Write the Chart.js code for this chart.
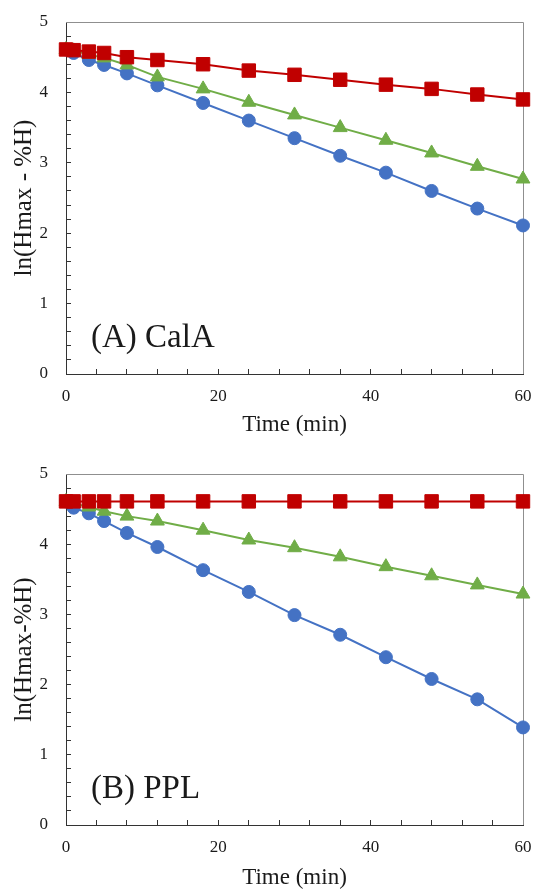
<!DOCTYPE html>
<html>
<head>
<meta charset="utf-8">
<script src="https://cdn.jsdelivr.net/npm/chart.js@4.4.1/dist/chart.umd.min.js"></script>
<style>
  html, body { margin: 0; padding: 0; background: #fff; }
  .panel { position: relative; width: 538px; height: 445px; }
</style>
</head>
<body>
<div class="panel"><canvas id="chartCalA" width="538" height="445"></canvas></div>
<div class="panel"><canvas id="chartPPL" width="538" height="445"></canvas></div>
<script>
// sampling times (min)
const TIME = [0, 1, 3, 5, 8, 12, 18, 24, 30, 36, 42, 48, 54, 60];

// (A) CalA — ln(Hmax - %H)
const CALA_RED   = [4.61, 4.60, 4.58, 4.56, 4.50, 4.46, 4.40, 4.31, 4.25, 4.18, 4.11, 4.05, 3.97, 3.90];
const CALA_GREEN = [4.61, 4.59, 4.54, 4.49, 4.39, 4.22, 4.05, 3.86, 3.68, 3.50, 3.32, 3.14, 2.95, 2.77];
const CALA_BLUE  = [4.61, 4.56, 4.46, 4.39, 4.27, 4.10, 3.85, 3.60, 3.35, 3.10, 2.86, 2.60, 2.35, 2.11];

// (B) PPL
const PPL_RED   = [4.61, 4.61, 4.61, 4.61, 4.61, 4.61, 4.61, 4.61, 4.61, 4.61, 4.61, 4.61, 4.61, 4.61];
const PPL_GREEN = [4.61, 4.58, 4.53, 4.47, 4.40, 4.33, 4.20, 4.06, 3.95, 3.82, 3.68, 3.55, 3.42, 3.29];
const PPL_BLUE  = [4.61, 4.52, 4.44, 4.33, 4.16, 3.96, 3.63, 3.32, 2.99, 2.71, 2.39, 2.08, 1.79, 1.39];

// axis ticks: every tick gets a mark, only the major ones get a label
const X_TICKS = [0, 4, 8, 12, 16, 20, 24, 28, 32, 36, 40, 44, 48, 52, 56, 60];
const X_LABELS = [0, 20, 40, 60];
const Y_TICKS = [0, 0.2, 0.4, 0.6, 0.8, 1, 1.2, 1.4, 1.6, 1.8, 2, 2.2, 2.4, 2.6, 2.8,
                 3, 3.2, 3.4, 3.6, 3.8, 4, 4.2, 4.4, 4.6, 4.8, 5];
const Y_LABELS = [0, 1, 2, 3, 4, 5];

const RED = '#C00000';
const GREEN = '#70AD47';
const BLUE = '#4472C4';
const SERIF = '"Liberation Serif", "Times New Roman", serif';
const TEXT = '#1a1a1a';

function series(values, color, style, radius) {
  return {
    data: TIME.map((t, i) => ({ x: t, y: values[i] })),
    borderColor: color,
    backgroundColor: color,
    borderWidth: 2,
    pointStyle: style,
    pointRadius: radius,
    pointHoverRadius: radius,
    pointBorderWidth: 1,
    tension: 0,
    clip: false,
  };
}

// gray top/right frame + panel caption
const panelFrame = {
  id: 'panelFrame',
  beforeDatasetsDraw(chart) {
    const { ctx, chartArea: a } = chart;
    ctx.save();
    ctx.strokeStyle = '#8f8f8f';
    ctx.lineWidth = 1;
    ctx.beginPath();
    ctx.moveTo(a.left, a.top + 0.5);
    ctx.lineTo(a.right + 0.5, a.top + 0.5);
    ctx.lineTo(a.right + 0.5, a.bottom);
    ctx.stroke();
    ctx.restore();
  },
  afterDraw(chart, args, opts) {
    const { ctx, chartArea: a } = chart;
    ctx.save();
    ctx.font = '33px ' + SERIF;
    ctx.fillStyle = TEXT;
    ctx.textBaseline = 'alphabetic';
    ctx.fillText(opts.caption, a.left + 25, a.bottom - 27);
    ctx.restore();
  },
};

function buildPanel(id, caption, yTitle, red, green, blue, layout) {
  const canvas = document.getElementById(id);
  return new Chart(canvas, {
    type: 'line',
    data: {
      datasets: [
        series(red, RED, 'rect', 9.5),
        series(green, GREEN, 'triangle', 8),
        series(blue, BLUE, 'circle', 6.5),
      ],
    },
    plugins: [panelFrame],
    options: {
      responsive: false,
      devicePixelRatio: 1,
      animation: false,
      events: [],
      layout: { padding: { top: layout.top, right: 15, bottom: 0, left: 0 } },
      plugins: {
        legend: { display: false },
        tooltip: { enabled: false },
        panelFrame: { caption },
      },
      scales: {
        x: {
          type: 'linear',
          min: 0, max: 60,
          afterBuildTicks: s => { s.ticks = X_TICKS.map(v => ({ value: v })); },
          afterFit: s => {
            s.height = layout.xAxis;
            s.paddingLeft = 0;
            s.paddingRight = 0;
          },
          ticks: {
            autoSkip: false,
            maxRotation: 0,
            padding: 17,
            color: TEXT,
            font: { family: SERIF, size: 17 },
            callback: v => X_LABELS.includes(v) ? String(v) : '',
          },
          grid: { drawOnChartArea: false, tickLength: -5, tickColor: '#333', tickWidth: 1 },
          border: { color: '#333', width: 1 },
          title: {
            display: true,
            text: 'Time (min)',
            color: TEXT,
            font: { family: SERIF, size: 23, lineHeight: 1 },
            padding: { top: 0, bottom: layout.titlePad },
          },
        },
        y: {
          type: 'linear',
          min: 0, max: 5,
          afterBuildTicks: s => { s.ticks = Y_TICKS.map(v => ({ value: v })); },
          afterFit: s => {
            s.width = 66;
            s.paddingTop = 0;
            s.paddingBottom = 0;
          },
          ticks: {
            autoSkip: false,
            padding: 23,
            color: TEXT,
            font: { family: SERIF, size: 17 },
            callback: v => Y_LABELS.includes(v) ? String(v) : '',
          },
          grid: { drawOnChartArea: false, tickLength: -5, tickColor: '#333', tickWidth: 1 },
          border: { color: '#333', width: 1 },
          title: {
            display: true,
            text: yTitle,
            color: TEXT,
            font: { family: SERIF, size: 25, lineHeight: 1 },
            padding: { top: 12, bottom: 0 },
          },
        },
      },
    },
  });
}

buildPanel('chartCalA', '(A) CalA', 'ln(Hmax - %H)', CALA_RED, CALA_GREEN, CALA_BLUE,
  { top: 22, xAxis: 71, titlePad: 9 });
buildPanel('chartPPL', '(B) PPL', 'ln(Hmax-%H)', PPL_RED, PPL_GREEN, PPL_BLUE,
  { top: 29, xAxis: 65, titlePad: 1 });
</script>
</body>
</html>
